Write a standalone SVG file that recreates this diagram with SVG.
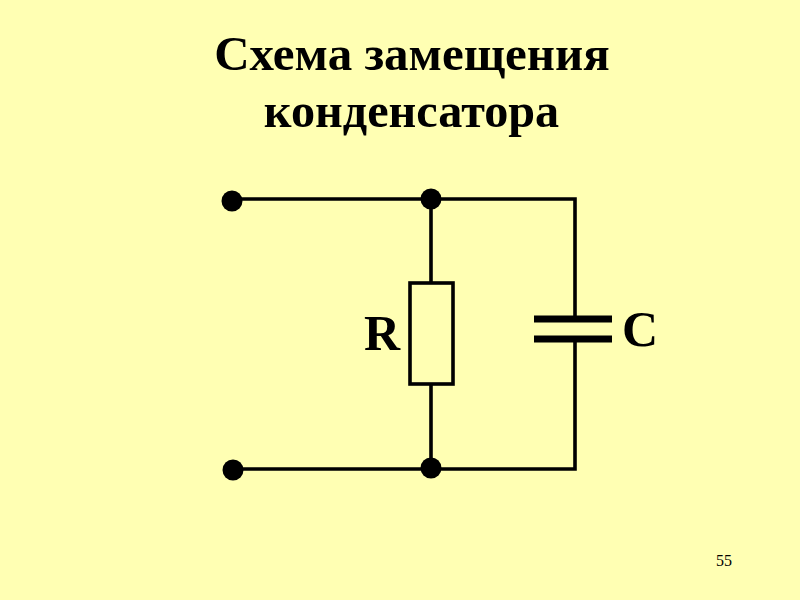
<svg xmlns="http://www.w3.org/2000/svg" width="800" height="600" viewBox="0 0 800 600">
<style>
text{font-family:"Liberation Serif","Times New Roman",serif;fill:#000}
.t{font-size:49px;font-weight:bold;text-anchor:middle}
.l{font-size:50px;font-weight:bold}
.w{fill:none;stroke:#000;stroke-width:3.600}
.d{fill:#000}
</style>
<rect width="800" height="600" fill="#ffffb3"/>
<text class="t" x="412" y="70">Схема замещения</text>
<text class="t" x="411.500" y="127" style="font-size:48.200px">конденсатора</text>
<g id="connectors">
<path class="w" d="M232 199H575V318M575 340V469H233"/>
<path class="w" d="M431 199V283M431 384V468"/>
</g>
<g id="term1"><circle class="d" cx="232" cy="201" r="10.500"/></g>
<g id="term2"><circle class="d" cx="233" cy="470" r="10.500"/></g>
<g id="j1"><circle class="d" cx="431" cy="199" r="10.500"/></g>
<g id="j2"><circle class="d" cx="431" cy="468" r="10.500"/></g>
<g id="R"><rect x="410" y="283" width="43" height="101" fill="none" stroke="#000" stroke-width="3.600"/><text class="l" x="364" y="350">R</text></g>
<g id="C"><path d="M534 319H612M534 339H612" fill="none" stroke="#000" stroke-width="7"/><text class="l" x="622" y="346">C</text></g>
<text x="716" y="566" font-size="16">55</text>
</svg>
